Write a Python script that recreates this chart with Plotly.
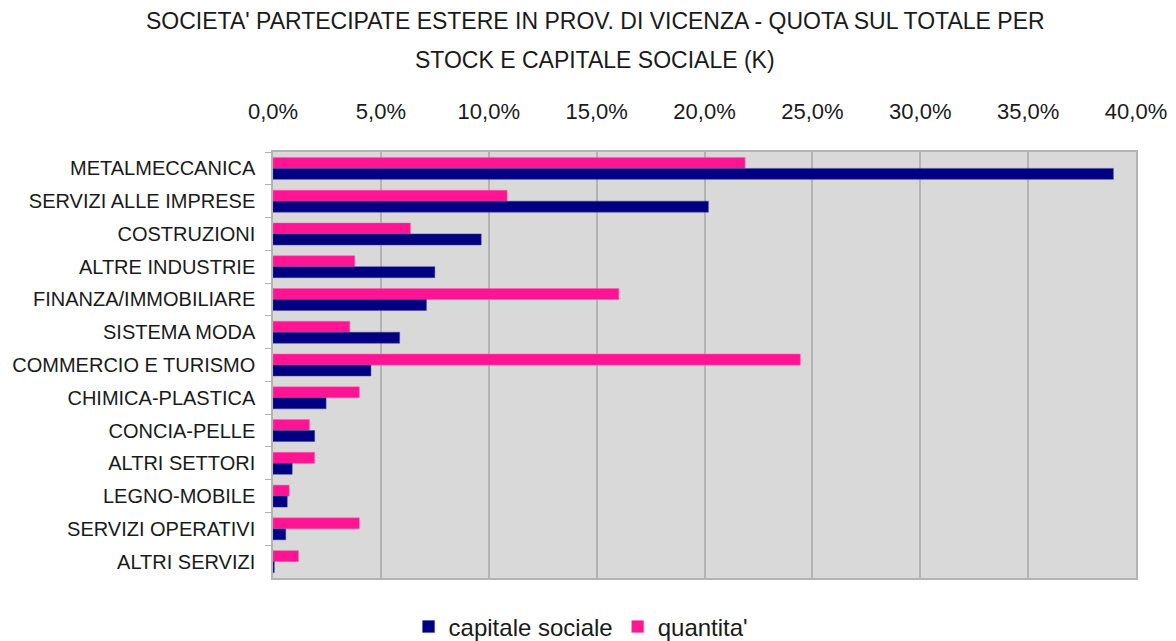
import plotly.graph_objects as go

categories = ["METALMECCANICA", "SERVIZI ALLE IMPRESE", "COSTRUZIONI", "ALTRE INDUSTRIE",
              "FINANZA/IMMOBILIARE", "SISTEMA MODA", "COMMERCIO E TURISMO", "CHIMICA-PLASTICA",
              "CONCIA-PELLE", "ALTRI SETTORI", "LEGNO-MOBILE", "SERVIZI OPERATIVI", "ALTRI SERVIZI"]
capitale_sociale = [0.3895, 0.2018, 0.0965, 0.0750, 0.0711, 0.0587, 0.0454, 0.0246,
                    0.0193, 0.0089, 0.0066, 0.0059, 0.0006]
quantita = [0.2188, 0.1085, 0.0637, 0.0379, 0.1603, 0.0356, 0.2444, 0.0400,
            0.0169, 0.0193, 0.0075, 0.0400, 0.0118]
x_ticks = [0, 0.05, 0.10, 0.15, 0.20, 0.25, 0.30, 0.35, 0.40]
title_lines = ["SOCIETA' PARTECIPATE ESTERE IN PROV. DI VICENZA - QUOTA SUL TOTALE PER",
               "STOCK E CAPITALE SOCIALE (K)"]

TXT = "#1a1a1a"
FONT = "Liberation Sans, Arial, sans-serif"

fig = go.Figure()
fig.add_trace(go.Bar(y=categories, x=quantita, orientation="h", name="quantita'",
                     marker=dict(color="#ff1493", line=dict(color="#ff5fb0", width=0.5)),
                     legendrank=2))
fig.add_trace(go.Bar(y=categories, x=capitale_sociale, orientation="h", name="capitale sociale",
                     marker=dict(color="#000080", line=dict(color="#4040a0", width=0.5)),
                     legendrank=1))

for txt, shift in zip(title_lines, [131, 92]):
    fig.add_annotation(text=txt, xref="paper", yref="paper", x=0, y=1,
                       xanchor="center", yanchor="middle", xshift=322, yshift=shift,
                       showarrow=False, font=dict(family=FONT, size=23, color=TXT))

fig.update_layout(
    width=1160, height=633,
    separators=",.",
    barmode="group", bargap=0.33, bargroupgap=0,
    paper_bgcolor="white", plot_bgcolor="#d9d9d9",
    margin=dict(l=265, r=32, t=144, b=63, autoexpand=False),
    xaxis=dict(side="top", range=[0, 0.40], tickvals=x_ticks, tickformat=".1%",
               showgrid=True, gridcolor="#b3b3b3", gridwidth=1.5,
               showline=True, linecolor="#b3b3b3", linewidth=1.5, mirror=True, zeroline=False,
               ticks="", ticklabelstandoff=22,
               tickfont=dict(family=FONT, size=22, color=TXT)),
    yaxis=dict(autorange="reversed", type="category",
               showline=True, linecolor="#b3b3b3", linewidth=1.5, mirror=True,
               ticks="outside", tickson="boundaries", ticklen=6, tickcolor="#b3b3b3",
               ticklabelstandoff=12,
               tickfont=dict(family=FONT, size=20, color=TXT)),
    legend=dict(orientation="h", x=0.357, xanchor="center", y=-0.115, yanchor="middle",
                font=dict(family=FONT, size=24, color=TXT),
                itemwidth=30, traceorder="normal"),
    showlegend=True,
)

fig.write_html("out.html")
